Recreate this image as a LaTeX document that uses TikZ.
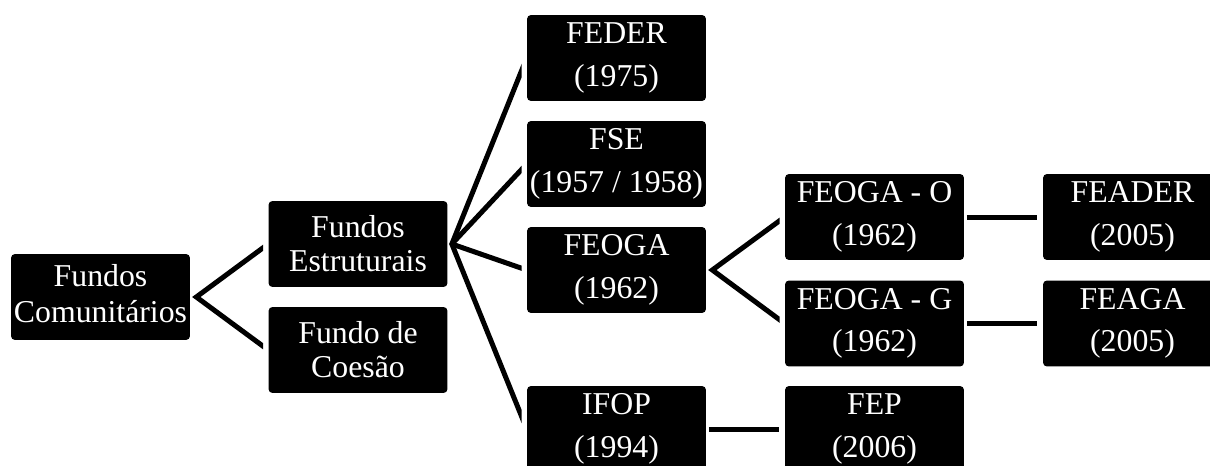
\documentclass[tikz,border=0pt]{standalone}
\usepackage{fontspec}
\setmainfont{Liberation Serif}
\begin{document}
\begin{tikzpicture}[x=0.02cm,y=-0.02cm,
  box/.style={fill=black,text=white,rounded corners=0.08cm,minimum width=3.58cm,minimum height=1.72cm,inner sep=0pt,align=center,font=\fontsize{18.1}{24.1}\selectfont},
  fbox/.style={box,font=\fontsize{18.1}{19.4}\selectfont},
  conn/.style={line width=0.1cm,line join=miter}]
\useasboundingbox (0,0) rectangle (1210,466);
% nodes
\node[fbox,font=\fontsize{18.1}{20.4}\selectfont] (com) at (100.5,297) {Fundos\\Comunitários\vphantom{(}};
\node[fbox] (est) at (358,244) {Fundos\\Estruturais};
\node[fbox] (coe) at (358,350) {Fundo de\\Coesão};
\node[box] (feder) at (616.5,58) {FEDER\\(1975)};
\node[box] (fse) at (616.5,164) {FSE\\(1957 / 1958)};
\node[box] (feoga) at (616.5,270) {FEOGA\\(1962)};
\node[box] (ifop) at (616.5,429) {IFOP\\(1994)};
\node[box] (feogao) at (874.5,217) {FEOGA - O\\(1962)};
\node[box] (feogag) at (874.5,323.5) {FEOGA - G\\(1962)};
\node[box] (fep) at (874.5,429) {FEP\\(2006)};
\node[box] (feader) at (1132.5,217) {FEADER\\(2005)};
\node[box] (feaga) at (1132.5,323.5) {FEAGA\\(2005)};
% connectors
\begin{scope}
  \clip ([xshift=-0.1cm]est.west) ++(0,-1000) rectangle (0,1000);
  \draw[conn] (est.west) -- ([xshift=0.12cm]com.east) -- (coe.west);
\end{scope}
\begin{scope}
  \clip ([xshift=-0.1cm]feder.west) ++(0,-1000) rectangle (0,1000);
  \draw[conn] (feder.west) -- ([xshift=0.08cm]est.east) -- (ifop.west);
  \draw[conn] (fse.west) -- ([xshift=0.08cm]est.east);
  \draw[conn] (feoga.west) -- ([xshift=0.08cm]est.east);
\end{scope}
\begin{scope}
  \clip ([xshift=-0.1cm]feogao.west) ++(0,-1000) rectangle (0,1000);
  \draw[conn] (feogao.west) -- ([xshift=0.12cm]feoga.east) -- (feogag.west);
\end{scope}
\draw[conn] ([xshift=0.05cm]feogao.east) -- ([xshift=-0.11cm]feader.west);
\draw[conn] ([xshift=0.05cm]feogag.east) -- ([xshift=-0.11cm]feaga.west);
\draw[conn] ([xshift=0.05cm]ifop.east) -- ([xshift=-0.11cm]fep.west);
\end{tikzpicture}
\end{document}
